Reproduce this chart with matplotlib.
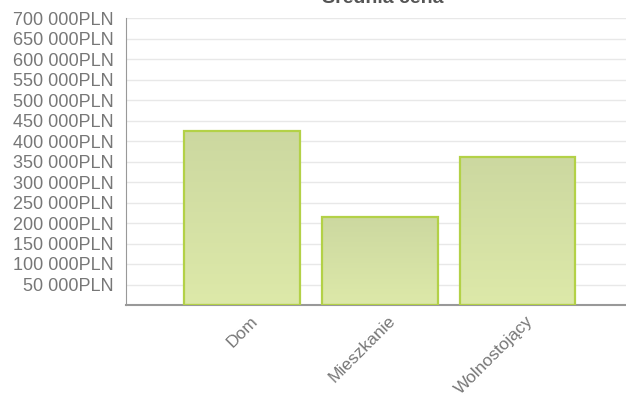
import numpy as np
import matplotlib
matplotlib.use("Agg")
import matplotlib.pyplot as plt
import matplotlib.transforms as mtransforms
from matplotlib.colors import LinearSegmentedColormap

plt.rcParams['font.family'] = ['Liberation Sans', 'DejaVu Sans']

title = "Średnia cena"
categories = ["Dom", "Mieszkanie", "Wolnostojący"]
values = [425000, 215000, 360000]
y_ticks = list(range(50000, 700001, 50000))


def fmt(v):
    return "{:,}".format(v).replace(",", " ") + "PLN"


fig = plt.figure(figsize=(6.26, 4.03), dpi=100)
ax = fig.add_axes([126 / 626, 1 - 305 / 403, 500 / 626, 287 / 403])

x = np.arange(len(categories))
bars = ax.bar(x, values, width=0.84, facecolor='none',
              edgecolor='#b3d147', linewidth=1.6, zorder=3)

# vertical gradient inside each bar
cmap = LinearSegmentedColormap.from_list('g', ['#dde9a9', '#ccd8a0'])
grad = np.linspace(0, 1, 256).reshape(-1, 1)
for b in bars:
    x0, w, h = b.get_x(), b.get_width(), b.get_height()
    im = ax.imshow(grad, cmap=cmap, origin='lower', aspect='auto',
                   extent=[x0, x0 + w, 0, h], zorder=2)
    im.set_clip_path(b)

ax.set_xlim(-0.844, 2.79)
ax.set_ylim(0, 700000)
ax.set_yticks(y_ticks)
ax.set_yticklabels([fmt(v) for v in y_ticks], color='#777777', fontsize=13)
ax.tick_params(axis='y', length=0, pad=9)
ax.grid(axis='y', color='#e8e8e8', linewidth=1, zorder=0)
ax.axhline(700000, color='#999999', linewidth=1.2, zorder=1)

ax.set_xticks(x)
ax.set_xticklabels(categories, rotation=45, ha='right', va='top',
                   rotation_mode='anchor', color='#777777', fontsize=12.5)
ax.tick_params(axis='x', length=0, pad=6)
off = mtransforms.ScaledTranslation(8 / 100, 0, fig.dpi_scale_trans)
for lbl in ax.get_xticklabels():
    lbl.set_transform(lbl.get_transform() + off)

for s in ['top', 'right']:
    ax.spines[s].set_visible(False)
ax.spines['left'].set_color('#999999')
ax.spines['bottom'].set_color('#999999')
ax.spines['bottom'].set_linewidth(1.5)

fig.text(383 / 626, 1 - 7 / 403, title, ha='center', va='bottom',
         fontsize=14, fontweight='bold', color='#555555')

fig.savefig('out.png', dpi=100)
